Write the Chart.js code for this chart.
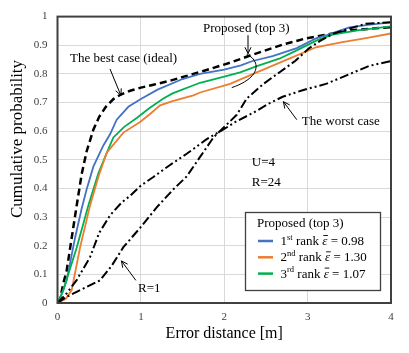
<!DOCTYPE html>
<html><head><meta charset="utf-8">
<script src="https://cdn.jsdelivr.net/npm/chart.js@4.4.0/dist/chart.umd.min.js"></script>
<style>html,body{margin:0;padding:0;background:#fff;}#wrap{width:409px;height:353px;}</style>
</head><body><div id="wrap"><canvas id="c" width="409" height="353"></canvas></div>
<script>
// ---- data ----
const xTicks = [0, 1, 2, 3, 4];
const yTicks = [0, 0.1, 0.2, 0.3, 0.4, 0.5, 0.6, 0.7, 0.8, 0.9, 1];

const bestX = [0, 0.03, 0.07, 0.11, 0.17, 0.23, 0.29, 0.35, 0.43, 0.5, 0.58, 0.67, 0.76, 0.88, 1.0, 1.15, 1.35, 1.55, 1.75, 2.07, 2.31, 2.7, 2.98, 3.3, 3.5, 4.0];
const bestY = [0, 0.011, 0.069, 0.113, 0.227, 0.34, 0.45, 0.53, 0.605, 0.65, 0.685, 0.712, 0.728, 0.742, 0.752, 0.762, 0.776, 0.793, 0.81, 0.839, 0.864, 0.902, 0.924, 0.941, 0.952, 0.963];

const blueX = [0, 0.05, 0.11, 0.21, 0.29, 0.35, 0.43, 0.55, 0.63, 0.71, 0.85, 1.0, 1.2, 1.5, 1.71, 2.0, 2.2, 2.34, 2.58, 2.87, 3.1, 3.23, 3.5, 3.75, 4.0];
const blueY = [0, 0.03, 0.079, 0.227, 0.33, 0.397, 0.476, 0.55, 0.589, 0.64, 0.685, 0.712, 0.745, 0.782, 0.8, 0.815, 0.83, 0.845, 0.862, 0.89, 0.924, 0.935, 0.962, 0.972, 0.98];

const orangeX = [0, 0.1, 0.17, 0.27, 0.39, 0.49, 0.59, 0.79, 0.99, 1.11, 1.23, 1.38, 1.63, 1.71, 2.07, 2.39, 2.78, 3.1, 3.4, 3.7, 4.0];
const orangeY = [0, 0.015, 0.045, 0.193, 0.34, 0.44, 0.525, 0.595, 0.632, 0.66, 0.69, 0.705, 0.725, 0.735, 0.765, 0.805, 0.853, 0.893, 0.91, 0.925, 0.941];

const greenX = [0, 0.07, 0.15, 0.23, 0.37, 0.49, 0.6, 0.67, 0.8, 0.95, 1.1, 1.27, 1.38, 1.71, 2.0, 2.19, 2.4, 2.66, 2.82, 3.11, 3.3, 3.6, 4.0];
const greenY = [0, 0.045, 0.12, 0.193, 0.34, 0.453, 0.53, 0.578, 0.615, 0.646, 0.68, 0.714, 0.732, 0.769, 0.79, 0.805, 0.828, 0.853, 0.875, 0.917, 0.937, 0.952, 0.966];

const worstX = [0, 0.1, 0.23, 0.39, 0.5, 0.63, 0.77, 0.87, 1.0, 1.15, 1.35, 1.55, 1.79, 1.99, 2.15, 2.34, 2.54, 2.7, 2.94, 3.22, 3.46, 3.74, 4.0];
const worstY = [0, 0.03, 0.08, 0.16, 0.245, 0.306, 0.351, 0.374, 0.41, 0.44, 0.482, 0.521, 0.572, 0.606, 0.635, 0.663, 0.697, 0.72, 0.743, 0.765, 0.794, 0.828, 0.845];

const r1X = [0, 0.1, 0.23, 0.51, 0.65, 0.79, 0.99, 1.19, 1.39, 1.55, 1.71, 1.87, 1.99, 2.15, 2.27, 2.47, 2.66, 2.85, 3.02, 3.15, 3.3, 3.5, 3.7, 4.0];
const r1Y = [0, 0.02, 0.039, 0.079, 0.13, 0.195, 0.262, 0.334, 0.397, 0.442, 0.51, 0.578, 0.612, 0.657, 0.714, 0.765, 0.805, 0.845, 0.89, 0.915, 0.94, 0.958, 0.975, 0.98];

const legendTitle = 'Proposed (top 3)';
const rankNums = ['1', '2', '3'];
const rankSup = ['st', 'nd', 'rd'];
const meanErr = ['0.98', '1.30', '1.07'];
const rankColors = ['#4472C4', '#ED7D31', '#00B050'];

// ---- chart ----
const SERIF = '"Liberation Serif","Times New Roman",serif';
function pts(xs, ys) { return xs.map((x, i) => ({x: x, y: ys[i]})); }
function ds(xs, ys, color, width, dash) {
  return {data: pts(xs, ys), borderColor: color, backgroundColor: color, borderWidth: width,
    borderDash: dash, showLine: true, pointRadius: 0, tension: 0, fill: false};
}

function arrow(ctx, x1, y1, x2, y2) {
  ctx.beginPath(); ctx.moveTo(x1, y1); ctx.lineTo(x2, y2); ctx.stroke();
  const a = Math.atan2(y2 - y1, x2 - x1), L = 7, w = 0.45;
  ctx.beginPath();
  ctx.moveTo(x2 - L * Math.cos(a - w), y2 - L * Math.sin(a - w));
  ctx.lineTo(x2, y2);
  ctx.lineTo(x2 - L * Math.cos(a + w), y2 - L * Math.sin(a + w));
  ctx.stroke();
}

const deco = {
  id: 'deco',
  afterDraw(chart) {
    const ctx = chart.ctx, ca = chart.chartArea;
    const sx = chart.scales.x, sy = chart.scales.y;
    const X = v => sx.getPixelForValue(v), Y = v => sy.getPixelForValue(v);
    ctx.save();
    // plot frame
    ctx.strokeStyle = '#404040'; ctx.lineWidth = 2;
    ctx.strokeRect(ca.left, ca.top, ca.right - ca.left, ca.bottom - ca.top);
    // y title
    ctx.save();
    ctx.translate(18, 139); ctx.rotate(-Math.PI / 2);
    ctx.font = '17px ' + SERIF; ctx.fillStyle = '#000';
    ctx.textAlign = 'center'; ctx.textBaseline = 'middle';
    ctx.fillText('Cumulative probability', 0, 0);
    ctx.restore();
    // annotations
    ctx.font = '13px ' + SERIF; ctx.fillStyle = '#000';
    ctx.textAlign = 'left'; ctx.textBaseline = 'middle';
    ctx.strokeStyle = '#000'; ctx.lineWidth = 1;
    ctx.fillText('The best case (ideal)', X(0.15), Y(0.854));
    arrow(ctx, X(0.63), Y(0.817), X(0.76), Y(0.725));
    ctx.fillText('Proposed (top 3)', X(1.745), Y(0.957));
    arrow(ctx, X(2.285), Y(0.935), X(2.285), Y(0.871));
    ctx.beginPath();
    ctx.moveTo(X(2.27), Y(0.868));
    ctx.bezierCurveTo(X(2.42), Y(0.85), X(2.47), Y(0.79), X(2.09), Y(0.752));
    ctx.stroke();
    ctx.fillText('The worst case', X(2.93), Y(0.634));
    arrow(ctx, X(2.87), Y(0.64), X(2.71), Y(0.703));
    ctx.fillText('R=1', X(0.965), Y(0.052));
    arrow(ctx, X(0.94), Y(0.079), X(0.767), Y(0.147));
    ctx.fillText('U=4', X(2.33), Y(0.49));
    ctx.fillText('R=24', X(2.33), Y(0.419));
    // legend
    ctx.fillStyle = '#fff';
    ctx.fillRect(245, 212, 136, 79);
    ctx.strokeStyle = '#404040'; ctx.lineWidth = 1.3;
    ctx.strokeRect(245.5, 212.5, 135, 78);
    ctx.fillStyle = '#000';
    ctx.font = '13px ' + SERIF;
    ctx.fillText(legendTitle, 257, 224);
    for (let i = 0; i < 3; i++) {
      const y = 241 + i * 16.3;
      ctx.strokeStyle = rankColors[i]; ctx.lineWidth = 2.5;
      ctx.beginPath(); ctx.moveTo(258, y); ctx.lineTo(273, y); ctx.stroke();
      let x = 280.5;
      ctx.font = '13px ' + SERIF;
      ctx.fillText(rankNums[i], x, y + 0.5); x += ctx.measureText(rankNums[i]).width;
      ctx.font = '8.5px ' + SERIF;
      ctx.fillText(rankSup[i], x, y - 3.5); x += ctx.measureText(rankSup[i]).width;
      ctx.font = '13px ' + SERIF;
      ctx.fillText(' rank ', x, y + 0.5); x += ctx.measureText(' rank ').width;
      ctx.font = 'italic 13px ' + SERIF;
      const ew = ctx.measureText('ε').width;
      ctx.fillText('ε', x, y + 0.5);
      ctx.strokeStyle = '#000'; ctx.lineWidth = 0.9;
      ctx.beginPath(); ctx.moveTo(x + 1, y - 5.5); ctx.lineTo(x + ew + 0.5, y - 5.5); ctx.stroke();
      x += ew;
      ctx.font = '13px ' + SERIF;
      ctx.fillText(' = ' + meanErr[i], x, y + 0.5);
    }
    ctx.restore();
  }
};

new Chart(document.getElementById('c'), {
  type: 'scatter',
  data: {datasets: [
    ds(r1X, r1Y, '#000', 2, [9, 3, 2, 3]),
    ds(worstX, worstY, '#000', 2, [9, 3, 2, 3, 2, 3]),
    ds(orangeX, orangeY, rankColors[1], 1.8, []),
    ds(greenX, greenY, rankColors[2], 1.8, []),
    ds(blueX, blueY, rankColors[0], 1.8, []),
    ds(bestX, bestY, '#000', 2.5, [7, 4])
  ]},
  options: {
    responsive: false, animation: false, devicePixelRatio: 1,
    layout: {padding: {top: 9, right: 18, left: 0, bottom: 0}},
    plugins: {legend: {display: false}, tooltip: {enabled: false}},
    scales: {
      x: {type: 'linear', min: 0, max: 4,
        afterBuildTicks: s => { s.ticks = xTicks.map(v => ({value: v})); },
        afterFit: s => { s.height = 50; },
        ticks: {font: {family: SERIF, size: 11}, color: '#404040', padding: 8,
          callback: v => String(v)},
        grid: {color: '#d9d9d9', lineWidth: 1, drawTicks: false},
        border: {display: false},
        title: {display: true, text: 'Error distance [m]', color: '#000',
          font: {family: SERIF, size: 16}, padding: {top: 0, bottom: 10}}
      },
      y: {min: 0, max: 1,
        afterBuildTicks: s => { s.ticks = yTicks.map(v => ({value: v})); },
        afterFit: s => { s.width = 57.5; },
        ticks: {font: {family: SERIF, size: 11}, color: '#404040', padding: 10,
          callback: v => String(Math.round(v * 10) / 10)},
        grid: {color: '#d9d9d9', lineWidth: 1, drawTicks: false},
        border: {display: false},
        title: {display: false}
      }
    }
  },
  plugins: [deco]
});
</script>
</body></html>
